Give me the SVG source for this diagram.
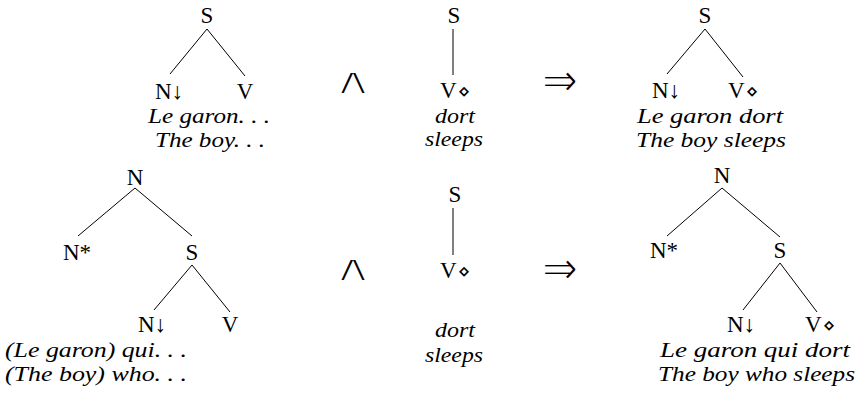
<svg xmlns="http://www.w3.org/2000/svg" width="860" height="393" viewBox="0 0 860 393">
<style>
.l{font-family:"Liberation Serif","Times New Roman",serif;font-size:23px;fill:#000}
.m{text-anchor:middle}
.i{font-family:"Liberation Serif","Times New Roman",serif;font-size:22px;font-style:italic;fill:#000}
.sym{font-family:"DejaVu Sans",sans-serif;font-size:20px}
.arr{font-size:23px}
.op{font-family:"DejaVu Sans",sans-serif;fill:#000;stroke:#fff;stroke-width:1.3px}
.and{stroke-width:1.9px}
.e line{stroke:#000;stroke-width:1;fill:none}
</style>
<rect width="860" height="393" fill="#fff"/>
<g id="connectors" class="e">
<line x1="207" y1="29" x2="170" y2="74"/>
<line x1="207" y1="29" x2="245" y2="76"/>
<line x1="453" y1="29" x2="453" y2="75"/>
<line x1="705" y1="29" x2="667" y2="74"/>
<line x1="705" y1="29" x2="743" y2="77"/>
<line x1="135" y1="188" x2="78" y2="236"/>
<line x1="135" y1="188" x2="192" y2="236"/>
<line x1="192" y1="265" x2="154" y2="310"/>
<line x1="192" y1="265" x2="230" y2="312"/>
<line x1="453" y1="208" x2="453" y2="255"/>
<line x1="722" y1="188" x2="667" y2="236"/>
<line x1="722" y1="188" x2="780" y2="237"/>
<line x1="780" y1="263" x2="743" y2="310"/>
<line x1="780" y1="263" x2="817" y2="312"/>
</g>
<g id="t1">
<g id="t1_S"><text class="l m" x="207" y="23">S</text></g>
<g id="t1_N"><text class="l" x="155" y="99">N<tspan class="arr">↓</tspan></text></g>
<g id="t1_V"><text class="l m" x="245" y="99">V</text></g>
<text class="i m" x="209" y="123" textLength="122" lengthAdjust="spacingAndGlyphs">Le garon. . .</text>
<text class="i m" x="210" y="147" textLength="110" lengthAdjust="spacingAndGlyphs">The boy. . .</text>
</g>
<g id="t2">
<g id="t2_S"><text class="l m" x="454" y="23">S</text></g>
<g id="t2_V"><text class="l" x="440" y="98">V<tspan class="sym" dx="1">⋄</tspan></text></g>
<text class="i m" x="455" y="123" textLength="40" lengthAdjust="spacingAndGlyphs">dort</text>
<text class="i m" x="454" y="146" textLength="58" lengthAdjust="spacingAndGlyphs">sleeps</text>
</g>
<g id="op1"><text class="op and" x="332" y="94" font-size="38" textLength="42" lengthAdjust="spacingAndGlyphs">∧</text></g>
<g id="op2"><text class="op" x="542" y="96" font-size="46" textLength="36" lengthAdjust="spacingAndGlyphs">⇒</text></g>
<g id="t3">
<g id="t3_S"><text class="l m" x="705" y="23">S</text></g>
<g id="t3_N"><text class="l" x="652" y="98">N<tspan class="arr">↓</tspan></text></g>
<g id="t3_V"><text class="l" x="728" y="98">V<tspan class="sym" dx="1">⋄</tspan></text></g>
<text class="i m" x="710" y="123" textLength="146" lengthAdjust="spacingAndGlyphs">Le garon dort</text>
<text class="i m" x="711" y="147" textLength="150" lengthAdjust="spacingAndGlyphs">The boy sleeps</text>
</g>
<g id="t4">
<g id="t4_N"><text class="l m" x="135" y="185">N</text></g>
<g id="t4_Nstar"><text class="l" x="63" y="260">N*</text></g>
<g id="t4_S"><text class="l m" x="192" y="260">S</text></g>
<g id="t4_Nd"><text class="l" x="138" y="332">N<tspan class="arr">↓</tspan></text></g>
<g id="t4_V"><text class="l m" x="230" y="332">V</text></g>
<text class="i" x="5" y="357" textLength="182" lengthAdjust="spacingAndGlyphs">(Le garon) qui. . .</text>
<text class="i" x="5" y="381" textLength="182" lengthAdjust="spacingAndGlyphs">(The boy) who. . .</text>
</g>
<g id="t5">
<g id="t5_S"><text class="l m" x="455" y="202">S</text></g>
<g id="t5_V"><text class="l" x="440" y="278">V<tspan class="sym" dx="1">⋄</tspan></text></g>
<text class="i m" x="455" y="337" textLength="40" lengthAdjust="spacingAndGlyphs">dort</text>
<text class="i m" x="454" y="362" textLength="58" lengthAdjust="spacingAndGlyphs">sleeps</text>
</g>
<g id="op3"><text class="op and" x="332" y="281" font-size="38" textLength="42" lengthAdjust="spacingAndGlyphs">∧</text></g>
<g id="op4"><text class="op" x="542" y="284" font-size="46" textLength="36" lengthAdjust="spacingAndGlyphs">⇒</text></g>
<g id="t6">
<g id="t6_N"><text class="l m" x="722" y="183">N</text></g>
<g id="t6_Nstar"><text class="l" x="650" y="258">N*</text></g>
<g id="t6_S"><text class="l m" x="780" y="258">S</text></g>
<g id="t6_Nd"><text class="l" x="727" y="332">N<tspan class="arr">↓</tspan></text></g>
<g id="t6_V"><text class="l" x="805" y="332">V<tspan class="sym" dx="1">⋄</tspan></text></g>
<text class="i" x="660" y="357" textLength="190" lengthAdjust="spacingAndGlyphs">Le garon qui dort</text>
<text class="i" x="658" y="381" textLength="197" lengthAdjust="spacingAndGlyphs">The boy who sleeps</text>
</g>
</svg>
